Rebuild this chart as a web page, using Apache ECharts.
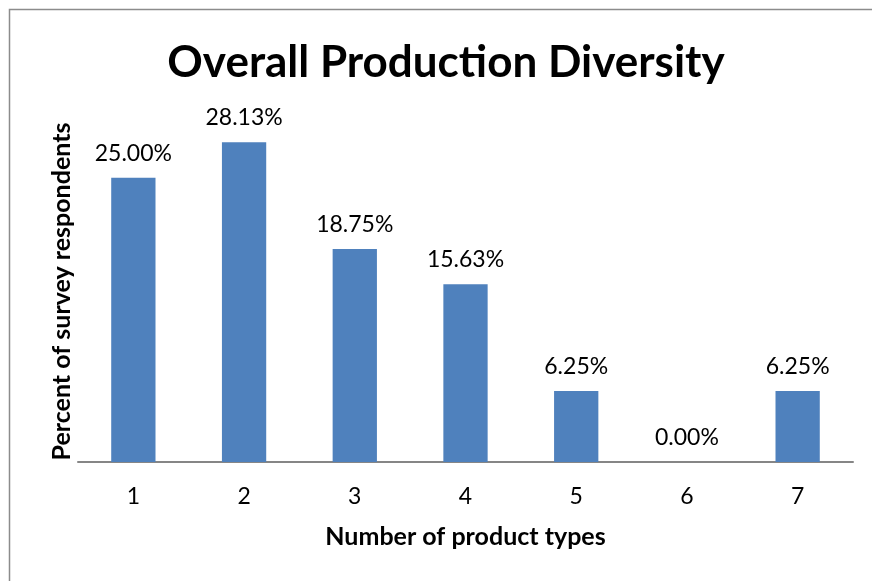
<!DOCTYPE html>
<html>
<head>
<meta charset="utf-8">
<script src="https://cdn.jsdelivr.net/npm/echarts@6/dist/echarts.min.js"></script>
<style>html,body{margin:0;padding:0;background:#fff}#c{width:872px;height:581px}</style>
</head>
<body>
<div id="c"></div>
<script>
const categories = ['1', '2', '3', '4', '5', '6', '7'];
const values = [25.00, 28.13, 18.75, 15.63, 6.25, 0.00, 6.25];
const titleText = 'Overall Production Diversity';
const xName = 'Number of product types';
const yName = 'Percent of survey respondents';

const FONT = 'Lato';
const chart = echarts.init(document.getElementById('c'), null, {renderer: 'canvas'});
chart.setOption({
  animation: false,
  backgroundColor: '#ffffff',
  graphic: [{
    type: 'rect', shape: {x: 9.5, y: 9.5, width: 900, height: 600},
    style: {fill: 'none', stroke: '#8c8c8c', lineWidth: 1.5}, silent: true
  }],
  title: {
    text: titleText, left: 441, textAlign: 'center', top: 36,
    textStyle: {fontFamily: FONT, fontSize: 44, fontWeight: 'bold', color: '#000'}
  },
  grid: {left: 78, right: 19, top: 121, bottom: 119},
  xAxis: {
    type: 'category', data: categories,
    name: xName, nameLocation: 'middle', nameGap: 62,
    nameTextStyle: {fontFamily: FONT, fontSize: 25, fontWeight: 'bold', color: '#000'},
    axisLine: {lineStyle: {color: '#868686', width: 2}},
    axisTick: {show: false},
    axisLabel: {fontFamily: FONT, fontSize: 23, color: '#000', margin: 23}
  },
  yAxis: {
    type: 'value', min: 0, max: 30, interval: 5,
    name: yName, nameLocation: 'middle', nameGap: 4, nameRotate: 90,
    nameTextStyle: {fontFamily: FONT, fontSize: 25, fontWeight: 'bold', color: '#000'},
    axisLine: {show: false}, axisTick: {show: false},
    axisLabel: {show: false}, splitLine: {show: false}
  },
  series: [{
    type: 'bar', data: values, barWidth: '40%',
    itemStyle: {color: '#4f81bd'},
    label: {
      show: true, position: 'top', distance: 13,
      fontFamily: FONT, fontSize: 23, color: '#000',
      formatter: p => p.value.toFixed(2) + '%'
    }
  }]
});
</script>
</body>
</html>
